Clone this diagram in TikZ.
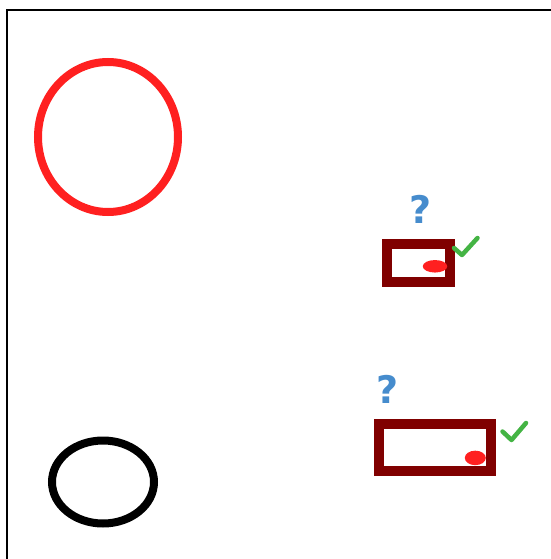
\documentclass[tikz,border=0pt]{standalone}
\usepackage{fontspec}
\setmainfont{DejaVu Sans}
\usetikzlibrary{shapes.geometric}
\definecolor{ringred}{RGB}{255,32,32}
\definecolor{boxred}{RGB}{128,0,0}
\definecolor{qblue}{RGB}{70,140,205}
\definecolor{tickgreen}{RGB}{68,180,68}
\tikzset{
  ring/.style={ellipse, draw, line width=8pt, inner sep=0pt},
  holder/.style={rectangle, draw=boxred, line width=10pt, inner sep=0pt},
  dot/.style={ellipse, fill=ringred, inner sep=0pt},
  qmark/.style={text=qblue, font=\fontsize{38}{38}\selectfont\bfseries, inner sep=0pt},
  tick/.style={draw=tickgreen, line width=4.5pt, line cap=round, line join=round}
}
\begin{document}
\begin{tikzpicture}[x=1pt,y=-1pt]
\useasboundingbox (0,0) rectangle (550,559);
\fill[white] (0,0) rectangle (550,559);
\coordinate (fb) at (7,560);
\coordinate (ft) at (7,10);
\coordinate (fr) at (551,10);
\draw[line width=2.2pt] (fb) -- (ft) -- (fr);
\node[ring, draw=ringred, minimum width=140pt, minimum height=150pt] (redring) at (108,137) {};
\node[ring, draw=black, minimum width=102pt, minimum height=83pt] (blackring) at (103,482) {};
\node[holder, minimum width=62.5pt, minimum height=38pt] (box1) at (418.7,262.6) {};
\node[holder, minimum width=112pt, minimum height=47pt] (box2) at (435,447.9) {};
\node[dot, minimum width=24.5pt, minimum height=12.5pt] (dot1) at (435,266.3) {};
\node[dot, minimum width=21pt, minimum height=14.5pt] (dot2) at (475.3,457.9) {};
\node[qmark] (q1) at (421,209) {?};
\node[qmark] (q2) at (387.5,389) {?};
\coordinate (t1a) at (454,248);
\coordinate (t1b) at (462,255);
\coordinate (t1c) at (477.5,238);
\draw[tick] (t1a) -- (t1b) -- (t1c);
\coordinate (t2a) at (502.5,431.5);
\coordinate (t2b) at (511.5,440);
\coordinate (t2c) at (526,423);
\draw[tick] (t2a) -- (t2b) -- (t2c);
\end{tikzpicture}
\end{document}
